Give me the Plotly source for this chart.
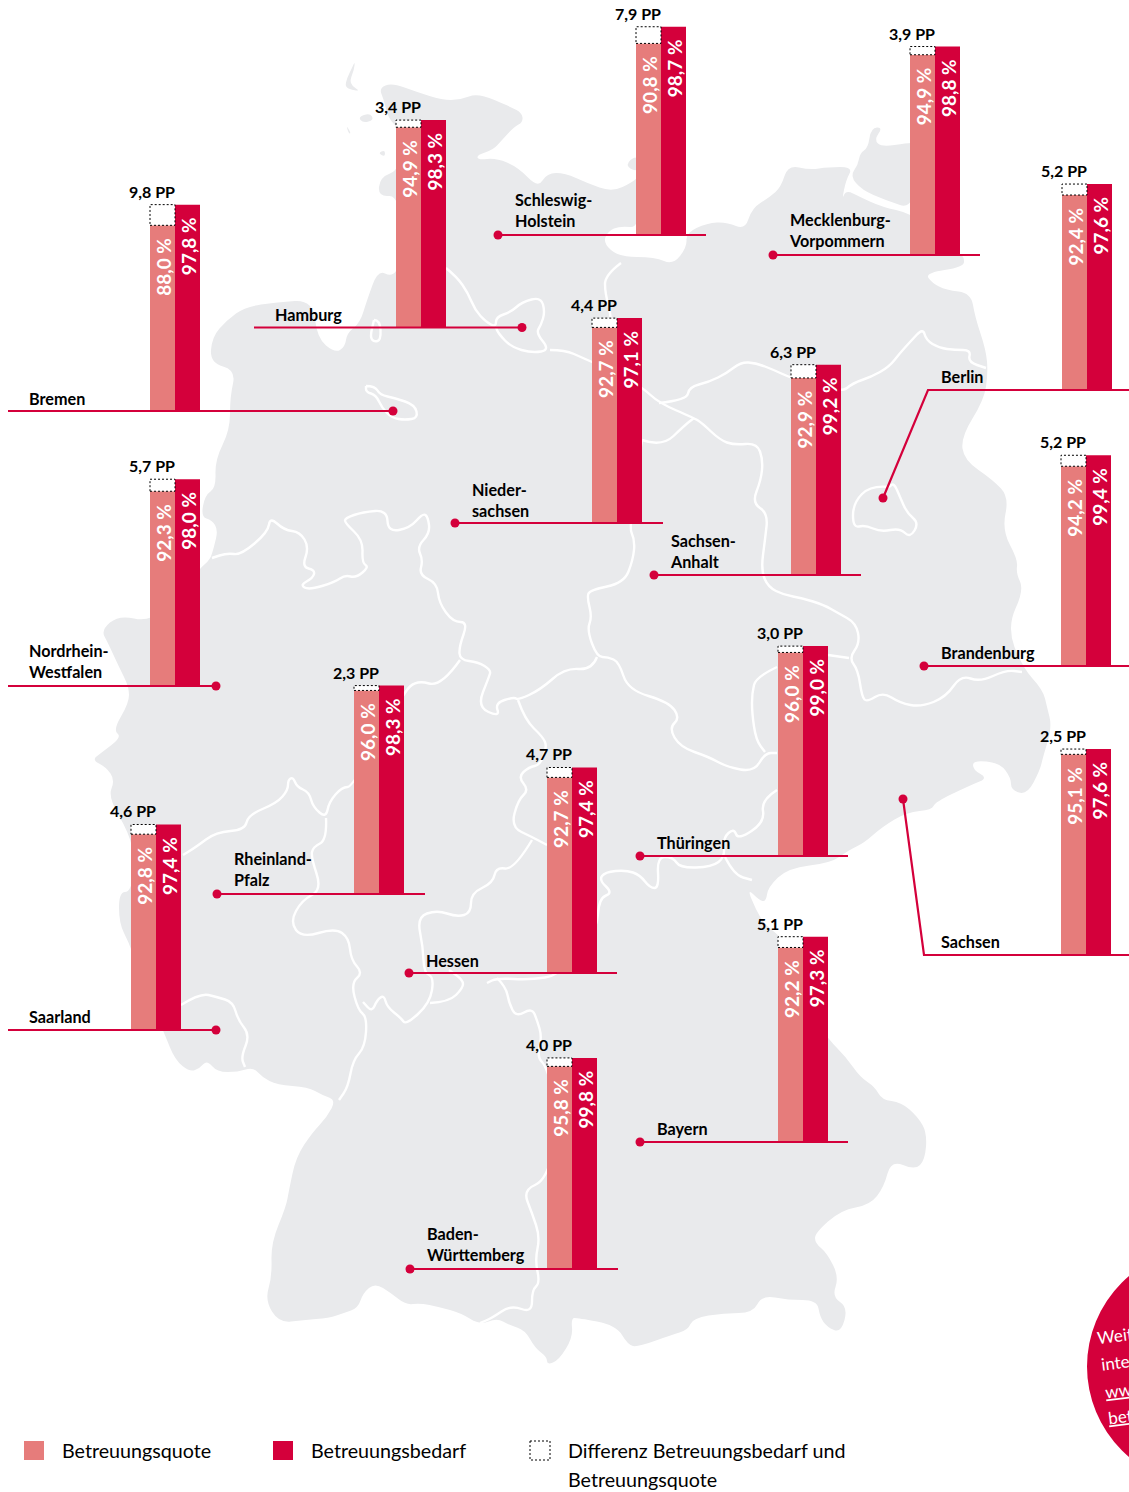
import plotly.graph_objects as go

# ---------- data ----------
STATES = ["Bremen", "Hamburg", "Schleswig-<br>Holstein", "Mecklenburg-<br>Vorpommern", "Berlin",
          "Nieder-<br>sachsen", "Sachsen-<br>Anhalt", "Nordrhein-<br>Westfalen", "Brandenburg",
          "Thüringen", "Rheinland-<br>Pfalz", "Hessen", "Sachsen", "Saarland", "Bayern",
          "Baden-<br>Württemberg"]
QUOTE = [88.0, 94.9, 90.8, 94.9, 92.4, 92.7, 92.9, 92.3, 94.2, 96.0, 96.0, 92.7, 95.1, 92.8, 92.2, 95.8]
BEDARF = [97.8, 98.3, 98.7, 98.8, 97.6, 97.1, 99.2, 98.0, 99.4, 99.0, 98.3, 97.4, 97.6, 97.4, 97.3, 99.8]
DIFF_PP = [9.8, 3.4, 7.9, 3.9, 5.2, 4.4, 6.3, 5.7, 5.2, 3.0, 2.3, 4.7, 2.5, 4.6, 5.1, 4.0]

# ---------- layout ----------
W, H = 1129, 1492
PX_PER_PCT = 2.11
BAR_W = 25
BAR_LEFT = [150, 396, 636, 910, 1062, 592, 791, 150, 1061, 778, 354, 547, 1061, 131, 778, 547]
BASE_PX = [411, 327.5, 235, 255, 390, 523, 574, 686, 665, 855, 893, 973, 955, 1030, 1142, 1268.5]
LEADERS = [[(8, 411), (393, 411)], [(254, 327.5), (522, 327.5)], [(498, 235), (706, 235)],
           [(773, 255), (980, 255)], [(883, 498), (928, 390), (1129, 390)], [(455, 523), (663, 523)],
           [(654, 575), (861, 575)], [(8, 686), (216, 686)], [(924, 666), (1129, 666)],
           [(640, 856), (848, 856)], [(217, 894), (425, 894)], [(409, 973), (617, 973)],
           [(903, 799), (924, 955), (1129, 955)], [(8, 1030), (216, 1030)], [(640, 1142), (848, 1142)],
           [(410, 1269), (618, 1269)]]
DOT_END = [-1, -1, 0, 0, 0, 0, 0, -1, 0, 0, 0, 0, 0, -1, 0, 0]
NAME_POS = [(27, 398), (273, 314), (513, 210), (787, 230), (939, 376), (470, 500), (668, 551), (27, 661),
            (939, 652), (655, 842), (232, 869), (424, 960), (939, 941), (27, 1016), (655, 1128), (425, 1244)]

DARK, LIGHT, GREY = "#D4003B", "#E67C7B", "#E9EAEC"
FONT = "Lato, 'Noto Sans', sans-serif"

# ---------- background map outline (page pixels) ----------
GERMANY = [(379, 88), (392, 83), (417, 92), (442, 100), (460, 100), (478, 93), (511, 107), (522, 113), (523, 122),
    (514, 127), (502, 140), (493, 150), (477, 155), (478, 160), (496, 158), (518, 167), (538, 188), (547, 173),
    (565, 173), (587, 183), (612, 192), (633, 182), (640, 175), (640, 228), (620, 226), (608, 231), (603, 243),
    (619, 257), (655, 257), (673, 265), (687, 247), (686, 233), (707, 223), (727, 222), (745, 230), (752, 208),
    (770, 197), (781, 187), (788, 165), (810, 170), (828, 167), (853, 167), (846, 180), (842, 200), (846, 190),
    (860, 197), (882, 207), (910, 213), (940, 235), (960, 255), (964, 257), (964, 267), (925, 273), (932, 283),
    (946, 290), (971, 293), (975, 317), (986, 350), (988, 373), (984, 400), (961, 437), (964, 460), (993, 480),
    (1009, 497), (1002, 530), (1018, 560), (1016, 573), (1024, 590), (1007, 627), (1022, 667), (1043, 690),
    (1047, 707), (1052, 727), (1043, 757), (1040, 770), (1027, 795), (1011, 790), (1011, 778), (1000, 763),
    (973, 760), (973, 770), (988, 778), (971, 785), (935, 802), (932, 810), (907, 812), (882, 827), (864, 843),
    (849, 850), (831, 863), (788, 868), (768, 887), (766, 902), (759, 900), (747, 888), (756, 910), (765, 925),
    (785, 940), (800, 1000), (829, 1040), (846, 1057), (860, 1077), (875, 1087), (882, 1100), (901, 1102),
    (918, 1117), (927, 1133), (925, 1160), (915, 1170), (891, 1160), (884, 1187), (870, 1205), (841, 1210),
    (815, 1233), (815, 1243), (827, 1253), (839, 1277), (832, 1297), (848, 1307), (841, 1333), (827, 1327),
    (820, 1317), (817, 1300), (788, 1300), (762, 1295), (753, 1313), (724, 1313), (693, 1318), (688, 1330),
    (671, 1335), (638, 1347), (628, 1345), (616, 1325), (578, 1318), (571, 1318), (573, 1337), (559, 1360),
    (547, 1365), (547, 1357), (535, 1348), (525, 1330), (509, 1325), (497, 1318), (480, 1325), (461, 1313),
    (439, 1307), (420, 1303), (406, 1305), (391, 1293), (375, 1283), (363, 1293), (358, 1308), (344, 1313),
    (329, 1318), (303, 1320), (279, 1323), (265, 1300), (272, 1277), (271, 1243), (286, 1207), (289, 1190),
    (296, 1157), (312, 1133), (327, 1117), (336, 1100), (322, 1095), (308, 1087), (277, 1085), (262, 1077),
    (253, 1067), (238, 1072), (217, 1072), (207, 1060), (200, 1068), (190, 1072), (175, 1060), (165, 1035),
    (150, 1000), (135, 960), (129, 943), (119, 923), (119, 892), (131, 892), (135, 860), (129, 833), (108, 797),
    (115, 780), (106, 767), (92, 760), (101, 753), (122, 737), (113, 730), (129, 703), (129, 687), (119, 667),
    (108, 643), (101, 630), (119, 615), (149, 622), (175, 600), (200, 568), (210, 560), (214, 547), (218, 530),
    (212, 520), (201, 517), (205, 495), (216, 488), (215, 460), (230, 430), (230, 397), (236, 370), (210, 363),
    (212, 337), (227, 320), (245, 307), (277, 302), (313, 300), (317, 338), (335, 353), (345, 347), (347, 333),
    (360, 323), (367, 300), (378, 270), (392, 277), (400, 265), (400, 195), (378, 197), (380, 177), (400, 170),
    (400, 130), (388, 118), (384, 100)]
ISLANDS = [
    [(355, 61), (352, 68), (347, 78), (345, 87), (352, 90), (360, 91), (352, 86), (350, 80), (354, 70)],
    [(358, 117), (370, 113), (374, 120), (363, 123)],
    [(346, 125), (351, 133), (349, 134)],
    [(378, 153), (385, 150), (385, 157)],
    [(625, 165), (636, 155), (640, 165), (636, 172)],
    [(858, 165), (860, 153), (868, 148), (871, 128), (883, 127), (874, 140), (882, 147), (907, 143), (915, 143),
     (915, 210), (885, 200), (862, 190), (850, 176)],
]
BORDERS = [
    [(446, 268), (457, 277), (468, 293), (475, 310), (486, 322), (496, 327), (496, 317), (511, 312), (522, 302),
     (541, 297), (545, 312), (541, 325), (536, 333), (550, 350), (532, 353), (511, 347), (498, 333), (496, 327)],
    [(550, 350), (565, 350), (583, 358), (610, 370), (642, 387), (659, 403), (694, 418), (702, 423), (720, 440),
     (734, 445), (757, 443), (763, 460), (761, 480), (752, 503), (768, 513), (765, 540), (761, 570), (768, 587),
     (784, 595), (802, 598), (824, 605), (838, 613), (856, 623), (860, 643), (849, 658), (858, 670), (862, 697),
     (867, 702), (883, 692), (900, 703), (921, 707), (946, 697), (961, 675), (980, 682), (1006, 670), (1022, 672)],
    [(849, 658), (828, 655)],
    [(621, 263), (605, 275), (605, 293), (612, 318), (610, 370)],
    [(659, 403), (687, 400), (689, 387), (709, 382), (727, 373), (741, 362), (756, 363), (774, 370), (791, 378),
     (841, 393), (853, 383), (871, 377), (889, 367), (900, 353), (910, 342), (923, 328), (926, 340), (939, 348),
     (955, 350), (971, 350), (968, 362), (986, 368)],
    [(642, 440), (662, 447), (685, 425), (694, 418)],
    [(889, 487), (871, 485), (853, 503), (853, 528), (865, 525), (881, 532), (900, 528), (910, 538), (919, 523),
     (907, 513), (900, 497), (894, 483), (889, 487)],
    [(366, 386), (375, 386), (380, 395), (395, 398), (415, 405), (418, 418), (405, 420), (392, 418), (382, 408),
     (376, 395), (366, 392), (366, 386)],
    [(374, 320), (380, 320), (381, 340), (374, 342), (370, 337), (374, 320)],
    [(642, 440), (628, 525), (635, 540), (633, 560), (624, 583), (590, 590), (587, 597), (592, 617), (587, 630),
     (597, 657), (608, 657), (619, 662), (628, 690), (669, 702), (680, 718), (669, 728), (680, 747), (709, 757),
     (727, 767), (754, 772), (765, 753), (777, 753)],
    [(777, 667), (756, 677), (752, 693), (752, 713), (756, 740), (765, 752)],
    [(597, 657), (592, 670), (565, 668), (540, 690), (518, 700), (514, 697), (495, 703), (500, 717), (477, 707),
     (489, 677), (491, 670), (478, 662), (460, 660), (459, 647), (468, 622), (453, 622), (439, 603), (437, 583),
     (419, 575), (423, 560), (417, 547), (430, 533), (428, 517), (423, 513), (410, 528), (388, 532), (387, 510),
     (363, 512), (345, 518), (345, 523), (363, 540), (362, 563), (369, 567), (356, 578), (345, 575), (335, 582),
     (309, 590), (300, 585), (313, 578), (315, 570), (302, 567), (309, 547), (300, 532), (284, 530), (270, 517),
     (268, 532), (241, 555), (227, 553), (212, 558)],
    [(460, 660), (441, 687), (417, 680), (403, 693), (353, 787), (342, 787), (329, 802), (326, 818), (313, 807),
     (309, 792), (297, 787), (293, 777), (288, 780), (288, 790), (277, 803), (248, 815), (245, 830), (216, 832),
     (196, 847), (183, 855)],
    [(326, 818), (327, 840), (313, 847), (311, 857), (322, 890), (302, 900), (290, 922), (302, 938), (335, 928),
     (349, 938), (351, 960), (363, 973), (351, 983), (358, 1010), (367, 1017), (365, 1047), (353, 1060), (348, 1087),
     (339, 1100)],
    [(518, 700), (525, 720), (543, 737), (547, 747), (540, 765), (529, 767), (518, 777), (529, 790), (518, 800),
     (511, 827), (532, 837), (547, 845)],
    [(532, 840), (514, 870), (496, 867), (493, 883), (471, 893), (471, 913), (457, 917), (437, 910), (417, 917),
     (423, 947), (424, 973), (434, 977), (430, 1003), (406, 1025), (401, 1018), (387, 1007), (384, 995), (377, 1000),
     (372, 1012), (363, 1002)],
    [(430, 1003), (449, 1002), (463, 988), (463, 980), (449, 970)],
    [(777, 790), (761, 800), (765, 822), (738, 840), (734, 828), (723, 838), (725, 857), (712, 867), (680, 868),
     (673, 857), (657, 857), (659, 888), (650, 888), (640, 875), (626, 870), (605, 872), (599, 880), (613, 893),
     (599, 898), (597, 930), (575, 950), (560, 975), (530, 980), (497, 978), (487, 983)],
    [(725, 857), (734, 875), (752, 880)],
    [(497, 978), (506, 987), (509, 1003), (516, 1017), (532, 1008), (537, 1020), (542, 1037), (537, 1057),
     (547, 1067), (560, 1120), (547, 1180), (523, 1190), (532, 1213), (540, 1237), (535, 1260), (540, 1283),
     (532, 1290), (532, 1313), (511, 1305), (492, 1318), (480, 1323)],
    [(181, 1005), (200, 993), (217, 997), (233, 1002), (238, 1020), (250, 1035), (241, 1057), (245, 1067)],
]


def path(points, close):
    """Rounded outline: quadratic curves between the midpoints of the traced points."""
    mid = lambda a, b: ((a[0] + b[0]) / 2, (a[1] + b[1]) / 2)
    if close:
        start = mid(points[-1], points[0])
        d = f"M{start[0]},{start[1]}"
        for i, p in enumerate(points):
            m = mid(p, points[(i + 1) % len(points)])
            d += f" Q{p[0]},{p[1]} {m[0]},{m[1]}"
        return d + " Z"
    d = f"M{points[0][0]},{points[0][1]}"
    for i in range(1, len(points) - 1):
        m = mid(points[i], points[i + 1])
        d += f" Q{points[i][0]},{points[i][1]} {m[0]},{m[1]}"
    return d + f" L{points[-1][0]},{points[-1][1]}"


def to_pct(px):
    return (H - px) / PX_PER_PCT


shapes = []
for poly in [GERMANY] + ISLANDS:
    shapes.append(dict(type="path", path=path(poly, True), xref="x", yref="y2", layer="below",
                       fillcolor=GREY, line=dict(width=0)))
for line in BORDERS:
    shapes.append(dict(type="path", path=path(line, False), xref="x", yref="y2", layer="below",
                       line=dict(color="white", width=2.4)))

fig = go.Figure()
base = [to_pct(b) for b in BASE_PX]
fig.add_bar(name="Betreuungsquote", x=BAR_LEFT, y=QUOTE, base=base, width=BAR_W, offset=0, xaxis="x", yaxis="y",
            marker=dict(color=LIGHT, line=dict(width=0)), hoverinfo="skip")
fig.add_bar(name="Betreuungsbedarf", x=[l + BAR_W for l in BAR_LEFT], y=BEDARF, base=base, width=BAR_W, offset=0,
            xaxis="x", yaxis="y", marker=dict(color=DARK, line=dict(width=0)), hoverinfo="skip")

annotations = []
for i, name in enumerate(STATES):
    left, b = BAR_LEFT[i], base[i]
    shapes.append(dict(type="rect", xref="x", yref="y", x0=left, x1=left + BAR_W, y0=b + QUOTE[i], y1=b + BEDARF[i],
                       fillcolor="white", line=dict(color="black", width=1, dash="2px,2px"), layer="above"))
    for val, xc, top in ((QUOTE[i], left + BAR_W / 2, b + QUOTE[i]), (BEDARF[i], left + 1.5 * BAR_W, b + BEDARF[i])):
        annotations.append(dict(x=xc, y=top, xref="x", yref="y", yanchor="top", xanchor="center", yshift=-11, xshift=1,
                                text=f"{val:.1f} %".replace(".", ","), textangle=-90, showarrow=False,
                                font=dict(family=FONT, size=19, color="white", weight=700)))
    annotations.append(dict(x=left + BAR_W + 1.5, y=b + BEDARF[i], xref="x", yref="y", xanchor="right", yanchor="bottom",
                            yshift=2, text=f"{DIFF_PP[i]:.1f} PP".replace(".", ","), showarrow=False,
                            font=dict(family=FONT, size=16, color="black", weight=700)))
    nx, ny = NAME_POS[i]
    annotations.append(dict(x=nx, y=ny, xref="x", yref="y2", xanchor="left", yanchor="middle", align="left", text=name,
                            showarrow=False, font=dict(family=FONT, size=16.2, color="black", weight=700)))
    pts = LEADERS[i]
    dot = pts[DOT_END[i]]
    fig.add_scatter(x=[p[0] for p in pts], y=[p[1] for p in pts], xaxis="x", yaxis="y2", mode="lines",
                    line=dict(color=DARK, width=2.2), showlegend=False, hoverinfo="skip")
    fig.add_scatter(x=[dot[0]], y=[dot[1]], xaxis="x", yaxis="y2", mode="markers",
                    marker=dict(color=DARK, size=9), showlegend=False, hoverinfo="skip")

LEGEND = [("Betreuungsquote", 24, 59.5, LIGHT), ("Betreuungsbedarf", 273, 308.5, DARK),
          ("Differenz Betreuungsbedarf und", 530, 566, None)]
for text, sx, tx, col in LEGEND:
    if col:
        shapes.append(dict(type="rect", xref="x", yref="y2", x0=sx, x1=sx + 20, y0=1441, y1=1460, fillcolor=col,
                           line=dict(width=0)))
    else:
        shapes.append(dict(type="rect", xref="x", yref="y2", x0=sx, x1=sx + 20, y0=1441, y1=1460, fillcolor="white",
                           line=dict(color="black", width=1, dash="2px,2px")))
    annotations.append(dict(x=tx, y=1450, xref="x", yref="y2", xanchor="left", yanchor="middle", text=text,
                            showarrow=False, font=dict(family=FONT, size=19.7, color="black")))
annotations.append(dict(x=566, y=1479, xref="x", yref="y2", xanchor="left", yanchor="middle", text="Betreuungsquote",
                        showarrow=False, font=dict(family=FONT, size=19.7, color="black")))

shapes.append(dict(type="circle", xref="x", yref="y2", x0=1087, x1=1324, y0=1248, y1=1485, fillcolor=DARK,
                   line=dict(width=0), layer="above"))
for text, tx, ty in (("Weit", 1094, 1335), ("inte", 1098, 1362), ("<u>www</u>", 1102, 1389), ("<u>bet</u>", 1105, 1416)):
    annotations.append(dict(x=tx, y=ty, xref="x", yref="y2", xanchor="left", yanchor="middle", text=text, textangle=-7,
                            showarrow=False, font=dict(family=FONT, size=17, color="white")))

fig.update_layout(
    width=W, height=H, margin=dict(l=0, r=0, t=0, b=0), paper_bgcolor="white", plot_bgcolor="rgba(0,0,0,0)",
    showlegend=False, barmode="overlay", shapes=shapes, annotations=annotations,
    xaxis=dict(range=[0, W], visible=False, fixedrange=True),
    yaxis=dict(range=[0, H / PX_PER_PCT], visible=False, fixedrange=True),
    yaxis2=dict(range=[H, 0], visible=False, overlaying="y", fixedrange=True),
)
fig.write_html("out.html", config=dict(displayModeBar=False),
               post_script="document.body.style.margin='0';document.documentElement.style.overflow='hidden';")
